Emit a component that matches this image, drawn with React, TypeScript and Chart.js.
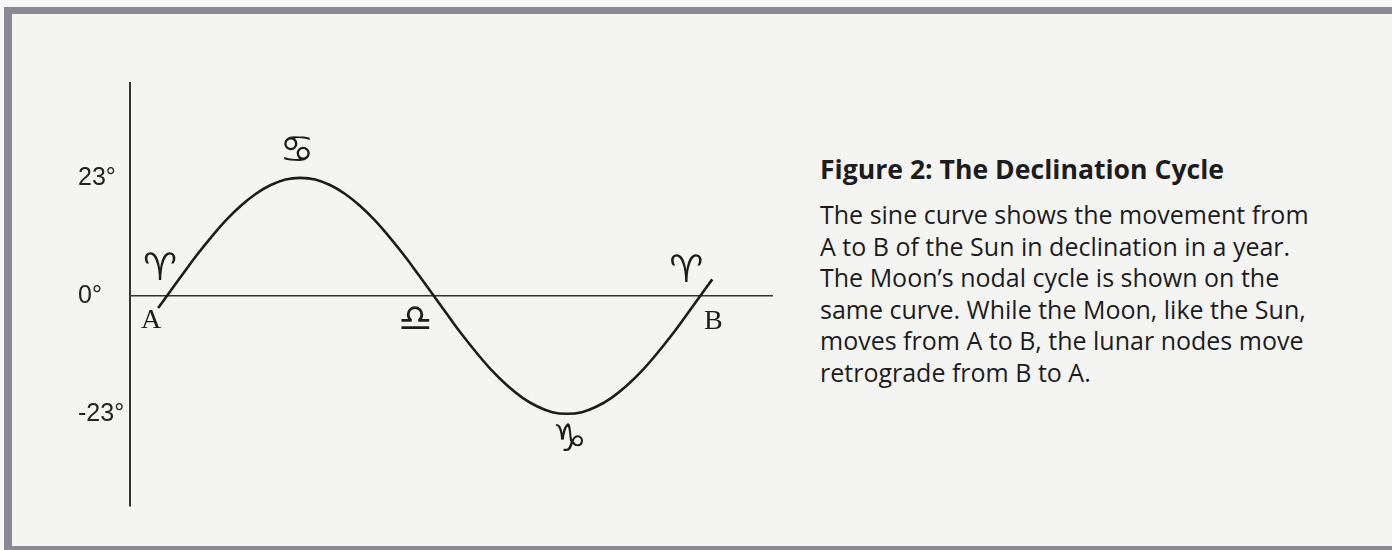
import React, { useEffect, useRef } from "react";
import { Chart, registerables } from "chart.js";

Chart.register(...registerables);

// Ecliptic longitude (degrees) and solar declination (degrees)
const LONGITUDE = [-6, 0, 10, 20, 30, 40, 50, 60, 70, 80, 90, 100, 110, 120, 130, 140, 150, 160, 170, 180, 190, 200, 210, 220, 230, 240, 250, 260, 270, 280, 290, 300, 310, 320, 330, 340, 350, 360, 368];
const DECLINATION = [-2.4, 0, 4.0, 7.9, 11.5, 14.8, 17.6, 19.9, 21.6, 22.7, 23.0, 22.7, 21.6, 19.9, 17.6, 14.8, 11.5, 7.9, 4.0, 0, -4.0, -7.9, -11.5, -14.8, -17.6, -19.9, -21.6, -22.7, -23.0, -22.7, -21.6, -19.9, -17.6, -14.8, -11.5, -7.9, -4.0, 0, 3.2];

const Y_TICKS = [-23, 0, 23];
const X_RANGE = [-25, 409];
const Y_RANGE = [-41, 41.5];

// Point labels on the curve (zodiac signs and the A/B ends)
const MARK_TEXT = ["\u2648\uFE0E", "A", "\u264B\uFE0E", "\u264E\uFE0E", "\u2651\uFE0E", "\u2648\uFE0E", "B"];
const MARK_LON = [-4.7, -10.8, 87.8, 167.5, 271.5, 350.5, 368.8];
const MARK_DEC = [5.1, -4.9, 28.0, -4.9, -28.3, 4.7, -5.1];
const MARK_KIND = ["sign", "letter", "sign", "sign", "sign", "sign", "letter"];

const TITLE = "Figure 2: The Declination Cycle";
const CAPTION_LINES = [
  "The sine curve shows the movement from",
  "A to B of the Sun in declination in a year.",
  "The Moon\u2019s nodal cycle is shown on the",
  "same curve. While the Moon, like the Sun,",
  "moves from A to B, the lunar nodes move",
  "retrograde from B to A.",
];

const INK = "#1c1c1c";

const markPlugin = {
  id: "curveMarks",
  afterDatasetsDraw(chart: any) {
    const { ctx, scales } = chart;
    ctx.save();
    ctx.fillStyle = INK;
    ctx.textAlign = "center";
    ctx.textBaseline = "middle";
    MARK_TEXT.forEach((t, i) => {
      const x = scales.x.getPixelForValue(MARK_LON[i]);
      const y = scales.y.getPixelForValue(MARK_DEC[i]);
      ctx.font = MARK_KIND[i] === "letter" ? "28px 'Liberation Serif'" : "38px 'DejaVu Sans'";
      ctx.fillText(t, x, y);
    });
    ctx.restore();
  },
};

function DeclinationChart() {
  const ref = useRef<HTMLCanvasElement | null>(null);
  useEffect(() => {
    if (!ref.current) return;
    const chart = new Chart(ref.current, {
      type: "line",
      data: {
        datasets: [
          {
            data: LONGITUDE.map((lon, i) => ({ x: lon, y: DECLINATION[i] })),
            borderColor: INK,
            borderWidth: 2.6,
            pointRadius: 0,
            tension: 0.4,
            fill: false,
          },
        ],
      },
      options: {
        animation: false,
        responsive: false,
        events: [],
        layout: { padding: { left: 78, top: 83, right: 27, bottom: 44 } },
        plugins: { legend: { display: false }, tooltip: { enabled: false }, title: { display: false } },
        scales: {
          x: { type: "linear", min: X_RANGE[0], max: X_RANGE[1], display: false },
          y: {
            type: "linear",
            min: Y_RANGE[0],
            max: Y_RANGE[1],
            afterBuildTicks: (s: any) => {
              s.ticks = Y_TICKS.map((v) => ({ value: v }));
            },
            afterFit: (s: any) => {
              s.width = 52;
            },
            grid: {
              drawTicks: false,
              lineWidth: 1.5,
              color: (c: any) => (c.tick && c.tick.value === 0 ? "#333333" : "rgba(0,0,0,0)"),
            },
            border: { display: true, color: "#333333", width: 2 },
            ticks: {
              crossAlign: "far",
              padding: 6,
              color: "#222222",
              font: { family: "'Liberation Sans'", size: 25 },
              callback: (v: any) => `${v}\u00B0`,
            },
          },
        },
      } as any,
      plugins: [markPlugin],
    });
    return () => chart.destroy();
  }, []);
  return (
    <canvas
      ref={ref}
      width={800}
      height={550}
      style={{ position: "absolute", left: 0, top: 0, width: 800, height: 550 }}
    />
  );
}

export default function App() {
  return (
    <div
      style={{
        position: "fixed",
        left: 0,
        top: 0,
        width: 1392,
        height: 550,
        background: "#f7f7f6",
        overflow: "hidden",
      }}
    >
      {/* frame */}
      <div style={{ position: "absolute", left: 4, top: 7, width: 1388, height: 7, background: "#8b8896" }} />
      <div style={{ position: "absolute", left: 4, top: 7, width: 8, height: 543, background: "#8b8896" }} />
      <div style={{ position: "absolute", left: 4, top: 546, width: 1388, height: 4, background: "#8b8896" }} />
      <div style={{ position: "absolute", left: 12, top: 14, width: 1380, height: 532, background: "#f4f4f2" }} />
      <DeclinationChart />
      <div
        style={{
          position: "absolute",
          left: 820,
          top: 152,
          fontFamily: "'Open Sans', sans-serif",
          fontWeight: 700,
          fontSize: 26.6,
          lineHeight: "34px",
          color: INK,
          whiteSpace: "nowrap",
        }}
      >
        {TITLE}
      </div>
      <div
        style={{
          position: "absolute",
          left: 820,
          top: 199,
          fontFamily: "'Open Sans', sans-serif",
          fontSize: 25,
          lineHeight: "31.6px",
          color: INK,
          whiteSpace: "nowrap",
        }}
      >
        {CAPTION_LINES.map((l, i) => (
          <div key={i}>{l}</div>
        ))}
      </div>
    </div>
  );
}
